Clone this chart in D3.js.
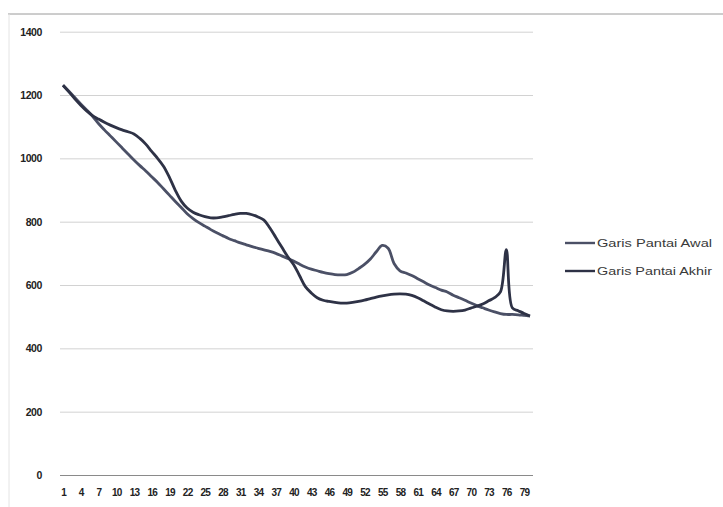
<!DOCTYPE html>
<html>
<head>
<meta charset="utf-8">
<script src="https://cdn.jsdelivr.net/npm/d3@7"></script>
<style>
  html, body { margin: 0; padding: 0; background: #fff; }
  svg { display: block; }
  text { font-family: "Liberation Sans", Arial, sans-serif; }
</style>
</head>
<body>
<svg id="chart" width="723" height="507"></svg>
<script>
// Transect numbers along the coast (1..80)
const transects = d3.range(1, 81);

// Shoreline position for each transect
const garisAwal = [
  1231, 1212, 1192, 1172, 1153, 1133, 1110, 1090, 1071, 1052,
  1033, 1014, 995, 977, 960, 942, 924, 904, 884, 864,
  845, 825, 810, 797, 786, 775, 765, 756, 747, 740,
  733, 727, 721, 716, 711, 706, 700, 692, 684, 676,
  666, 657, 650, 645, 640, 636, 633, 632, 633, 640,
  652, 665, 682, 705, 725, 716, 668, 645, 638, 630,
  620, 610, 600, 592, 584, 578, 568, 560, 552, 543,
  535, 528, 521, 515, 510, 507, 507, 506, 504, 502
];
const garisAkhir = [
  1231, 1210, 1188, 1168, 1150, 1135, 1124, 1114, 1105, 1097,
  1090, 1084, 1077, 1063, 1045, 1022, 1000, 975, 940, 899,
  865, 843, 830, 822, 816, 812, 812, 815, 819, 823,
  826, 826, 822, 815, 805, 780, 750, 720, 690, 665,
  630, 595, 575, 560, 552, 548, 545, 543, 543, 545,
  548, 552, 557, 562, 566, 569, 571, 572, 571, 567,
  560, 550, 540, 530, 522, 518, 517, 518, 521, 527,
  533, 540, 550, 560, 578, 712, 528, 519, 510, 502
];

const seriesNames = ["Garis Pantai Awal", "Garis Pantai Akhir"];
const seriesColors = ["#4b5066", "#2e3246"];
const yTicks = [0, 200, 400, 600, 800, 1000, 1200, 1400];
const xTickLabels = transects.filter(d => (d - 1) % 3 === 0);

const svg = d3.select("#chart");

// outer chart frame
svg.append("line").attr("x1", 8).attr("x2", 723).attr("y1", 14).attr("y2", 14)
  .attr("stroke", "#9a9a9a").attr("stroke-width", 1);
svg.append("line").attr("x1", 9).attr("x2", 9).attr("y1", 14).attr("y2", 507)
  .attr("stroke", "#e4e4e4").attr("stroke-width", 1);

const x = d3.scalePoint().domain(transects).range([63, 530]);
const y = d3.scaleLinear().domain([0, 1400]).range([475, 31.7]);

// horizontal gridlines + value axis labels
const yAxis = d3.axisLeft(y).tickValues(yTicks).tickSize(-473).tickPadding(18)
  .tickFormat(d3.format("d"));
const gy = svg.append("g").attr("transform", "translate(60,0)").call(yAxis);
gy.select(".domain").remove();
gy.selectAll(".tick line").attr("stroke", "#d2d2d2").attr("stroke-width", 1)
  .filter(d => d === 0).attr("stroke", "#8a8a8a");
gy.selectAll(".tick text").attr("fill", "#222").attr("font-size", 10.5)
  .attr("font-weight", "bold").attr("letter-spacing", -0.4);

// category axis labels
const xAxis = d3.axisBottom(x).tickValues(xTickLabels).tickSize(0).tickPadding(14);
const gx = svg.append("g").attr("transform", "translate(0,475)").call(xAxis);
gx.select(".domain").remove();
gx.selectAll(".tick text").attr("fill", "#222").attr("font-size", 10)
  .attr("font-weight", "bold").attr("letter-spacing", -0.8);

// smoothed shoreline lines
const line = d3.line()
  .x((d, i) => x(transects[i]))
  .y(d => y(d))
  .curve(d3.curveCatmullRom.alpha(0.5));

[garisAwal, garisAkhir].forEach((vals, k) => {
  svg.append("path").datum(vals)
    .attr("fill", "none")
    .attr("stroke", seriesColors[k])
    .attr("stroke-width", 2.8)
    .attr("stroke-linejoin", "round")
    .attr("d", line);
});

// legend
const legend = svg.append("g");
seriesNames.forEach((name, k) => {
  const ly = 243 + k * 28;
  legend.append("line").attr("x1", 565).attr("x2", 595).attr("y1", ly).attr("y2", ly)
    .attr("stroke", seriesColors[k]).attr("stroke-width", 2.4);
  legend.append("text").attr("x", 597).attr("y", ly + 4)
    .attr("font-size", 11.5).attr("fill", "#3a3a3a")
    .attr("textLength", 115).attr("lengthAdjust", "spacingAndGlyphs")
    .text(name);
});
</script>
</body>
</html>
